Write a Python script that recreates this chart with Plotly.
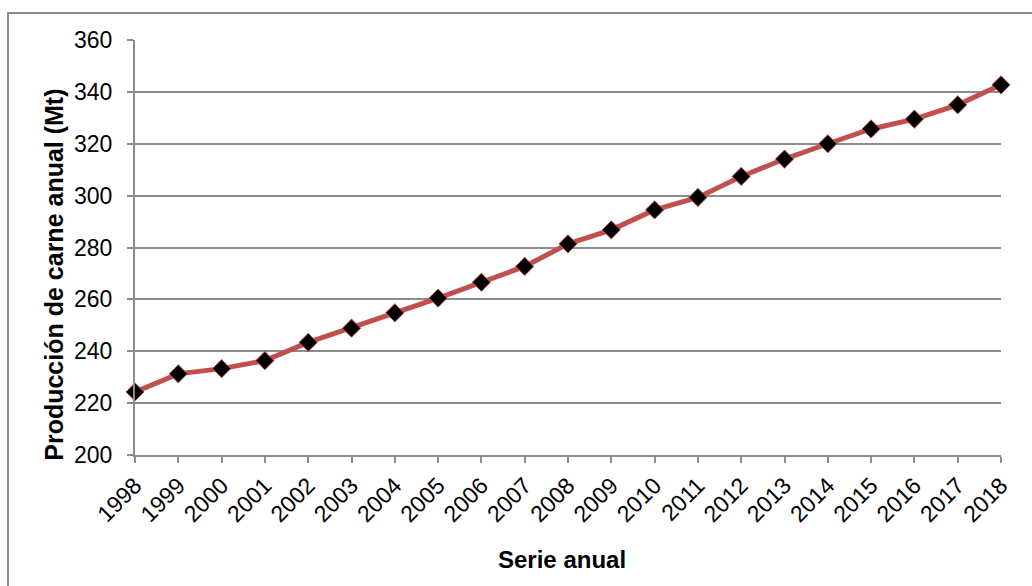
import plotly.graph_objects as go

years = list(range(1998, 2019))
produccion = [224.3, 231.3, 233.3, 236.4, 243.4, 248.9, 254.8, 260.5, 266.6, 272.7,
              281.4, 286.8, 294.5, 299.3, 307.4, 314.1, 320.0, 325.7, 329.5, 335.0, 342.7]
y_ticks = [200, 220, 240, 260, 280, 300, 320, 340, 360]

FONT = "Liberation Sans, Arial, sans-serif"
GRID = "#8c8c8c"

fig = go.Figure()
fig.add_trace(go.Scatter(
    x=years, y=produccion, mode="lines+markers",
    line=dict(color="#C0504D", width=5),
    marker=dict(symbol="diamond", size=14, color="#000000",
                line=dict(color="#C0504D", width=1)),
    cliponaxis=False, showlegend=False,
))

fig.update_layout(
    width=1032, height=586,
    margin=dict(l=135, r=31, t=40, b=131),
    paper_bgcolor="white", plot_bgcolor="white",
    font=dict(family=FONT, size=23, color="#000000"),
    shapes=[dict(type="rect", xref="paper", yref="paper",
                 x0=-127 / 866, x1=1029 / 866, y0=-0.4, y1=1 + 27 / 415,
                 line=dict(color="#8c8c8c", width=2), layer="below")],
    annotations=[
        dict(text="<b>Serie anual</b>", xref="paper", yref="paper",
             x=0.493, y=-0.2515, xanchor="center", yanchor="middle",
             showarrow=False, font=dict(size=24)),
        dict(text="<b>Producción de carne anual (Mt)</b>", xref="paper", yref="paper",
             x=-0.0935, y=0.4344, xanchor="center", yanchor="middle", textangle=-90,
             showarrow=False, font=dict(size=25)),
    ],
)
fig.update_xaxes(
    range=[1998, 2018], tickmode="array", tickvals=years,
    ticktext=[str(y) for y in years], tickangle=-45,
    tickfont=dict(size=23),
    showgrid=False, showline=True, linecolor=GRID, linewidth=2,
    ticks="outside", ticklen=6, tickwidth=2, tickcolor=GRID,
    zeroline=False,
)
fig.update_yaxes(
    range=[200, 360], tickmode="array", tickvals=y_ticks,
    tickfont=dict(size=23), ticklabelstandoff=10,
    showgrid=True, gridcolor=GRID, gridwidth=2,
    showline=True, linecolor=GRID, linewidth=2,
    ticks="outside", ticklen=6, tickwidth=2, tickcolor=GRID,
    zeroline=False,
)

fig.write_html("out.html")
